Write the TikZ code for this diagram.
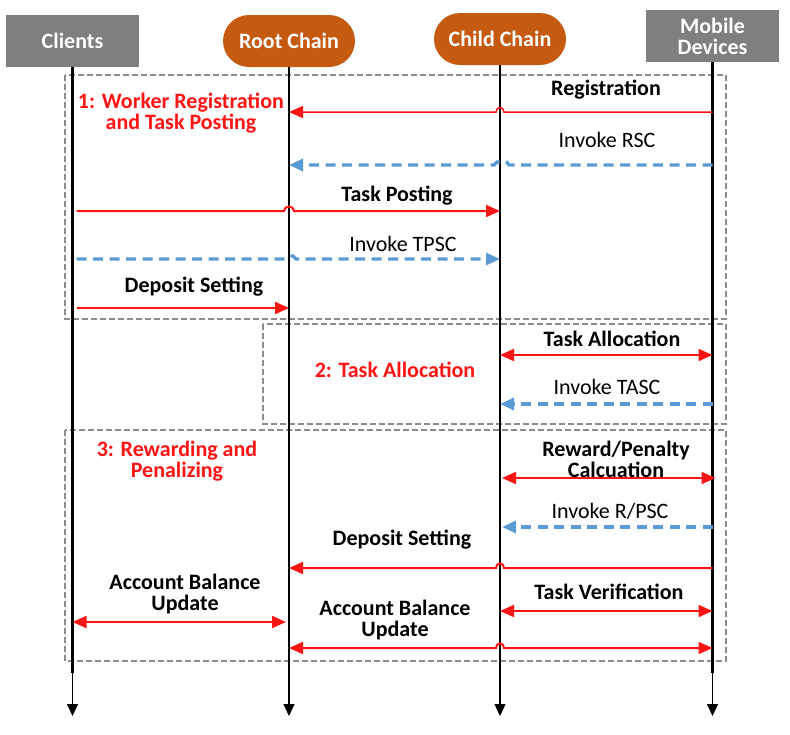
\documentclass[tikz,border=0pt]{standalone}
\usepackage{fontspec}
\setmainfont{Carlito}
\usetikzlibrary{arrows.meta,calc}
\definecolor{hdrgray}{RGB}{127,127,127}
\definecolor{hdrorange}{RGB}{197,90,17}
\definecolor{arred}{RGB}{255,20,20}
\definecolor{arblue}{RGB}{91,155,213}
\definecolor{boxgray}{RGB}{140,140,140}
\begin{document}
\begin{tikzpicture}[x=1pt,y=-1pt,
  hdrbox/.style={fill=hdrgray,minimum width=133pt,minimum height=52pt,inner sep=0pt,text=white,font=\fontsize{22}{21}\selectfont\bfseries,align=center},
  hdrpill/.style={fill=hdrorange,rounded corners=26pt,minimum width=132pt,minimum height=52pt,inner sep=0pt,text=white,font=\fontsize{22}{21}\selectfont\bfseries},
  phasebox/.style={draw=boxgray,line width=1.5pt,dash pattern=on 6pt off 3pt},
  life/.style={draw=black,line width=2.5pt},
  lifethin/.style={draw=black,line width=1.2pt,-{Triangle[length=12pt,width=11pt]}},
  redline/.style={draw=arred,line width=2pt},
  blueline/.style={draw=arblue,line width=3.2pt,dash pattern=on 10pt off 6.5pt},
  tip/.style={-{Triangle[length=14pt,width=12pt]}},
  tips/.style={{Triangle[length=14pt,width=12pt]}-{Triangle[length=14pt,width=12pt]}},
  lbl/.style={inner sep=0pt,font=\fontsize{22}{21}\selectfont\bfseries,align=center},
  lbln/.style={inner sep=0pt,font=\fontsize{22}{21}\selectfont,align=center},
  phase/.style={inner sep=0pt,text=arred,font=\fontsize{22}{21}\selectfont\bfseries,align=center}
]
\useasboundingbox (0,0) rectangle (790,734);

% phase boxes
\draw[phasebox] (65,75) rectangle (726,319);
\draw[phasebox] (263,324) rectangle (726,424);
\draw[phasebox] (65,430) rectangle (726,661);

% headers
\node[hdrbox] (cli) at (72.5,41) {Clients};
\node[hdrpill] (root) at (289,41) {Root Chain};
\node[hdrpill] (child) at (500,39) {Child Chain};
\node[hdrbox] (mob) at (712.5,36) {Mobile\\Devices};

% rows
\coordinate (ybot) at (0,673);
\coordinate (yend) at (0,716);
\coordinate (r1) at (0,112);
\coordinate (r2) at (0,165);
\coordinate (r3) at (0,211);
\coordinate (r4) at (0,259);
\coordinate (r5) at (0,308);
\coordinate (r6) at (0,355);
\coordinate (r7) at (0,404);
\coordinate (r8) at (0,478);
\coordinate (r9) at (0,527);
\coordinate (r10) at (0,568);
\coordinate (r11) at (0,611);
\coordinate (r12) at (0,622);
\coordinate (r13) at (0,648);

% lifelines
\foreach \n in {cli,root,child,mob}{
  \draw[life] (\n.south) -- (\n |- ybot);
  \draw[lifethin] (\n |- ybot) -- (\n |- yend);
}

% phase 1
\draw[redline,line width=1.5pt,tip] (mob |- r1) -- ($(child |- r1)+(4,0)$) .. controls +(0,-6) and +(0,-6) .. ($(child |- r1)+(-4,0)$) -- (root |- r1);
\draw[blueline,tip] (mob |- r2) -- ($(child |- r2)+(9,0)$) .. controls +(-3,-5) and +(3,0) .. ($(child |- r2)+(2,-3)$) -- ($(child |- r2)+(-3,-3)$) .. controls +(-2,0) and +(2,0) .. ($(child |- r2)+(-6,0)$) -- (root |- r2);
\draw[redline,tip] ($(cli |- r3)+(4,0)$) -- ($(root |- r3)+(-5,0)$) .. controls +(0,-6) and +(0,-6) .. ($(root |- r3)+(5,0)$) -- (child |- r3);
\draw[blueline,tip] ($(cli |- r4)+(4,0)$) -- ($(root |- r4)+(-6,0)$) .. controls +(3,0) and +(-2,0) .. ($(root |- r4)+(0,-3)$) -- ($(root |- r4)+(4,-3)$) .. controls +(2,0) and +(-2,0) .. ($(root |- r4)+(7,0)$) -- (child |- r4);
\draw[redline,tip] ($(cli |- r5)+(4,0)$) -- (root |- r5);

\node[lbl] (lreg) at (606,90) {Registration};
\node[lbln] (lrsc) at (607,140) {Invoke RSC};
\node[lbl] (ltp) at (397,196) {Task Posting};
\node[lbln] (ltpsc) at (403,244) {Invoke TPSC};
\node[lbl] (lds1) at (194,287) {Deposit Setting};
\node[phase] (ph1) at (181,113) {1: Worker Registration\\and Task Posting};

% phase 2
\draw[redline,tips] (child |- r6) -- (mob |- r6);
\draw[blueline,tip] (mob |- r7) -- (child |- r7);
\node[lbl] (lta) at (612,339) {Task Allocation};
\node[lbln] (ltasc) at (607,387) {Invoke TASC};
\node[phase] (ph2) at (395,370) {2: Task Allocation};

% phase 3
\draw[redline,tips] ($(child |- r8)+(2,0)$) -- ($(mob |- r8)+(3,0)$);
\draw[blueline,tip] (mob |- r9) -- ($(child |- r9)+(2,0)$);
\draw[redline,tip] (mob |- r10) -- ($(child |- r10)+(4,0)$) .. controls +(0,-6) and +(0,-6) .. ($(child |- r10)+(-4,0)$) -- (root |- r10);
\draw[redline,tips] (child |- r11) -- (mob |- r11);
\draw[redline,tips] (cli |- r12) -- ($(root |- r12)+(-3,0)$);
\draw[redline,tips] (root |- r13) -- ($(child |- r13)+(-4,0)$) .. controls +(0,-6) and +(0,-6) .. ($(child |- r13)+(4,0)$) -- (mob |- r13);

\node[lbl] (lrp) at (616,459) {Reward/Penalty\\Calcuation};
\node[lbln] (lrpsc) at (610,511) {Invoke R/PSC};
\node[lbl] (lds2) at (402,540) {Deposit Setting};
\node[lbl] (ltv) at (609,592) {Task Verification};
\node[lbl] (lab1) at (185,594) {Account Balance\\Update};
\node[lbl] (lab2) at (395,620) {Account Balance\\Update};
\node[phase] (ph3) at (177,461) {3: Rewarding and\\Penalizing};
\end{tikzpicture}
\end{document}
